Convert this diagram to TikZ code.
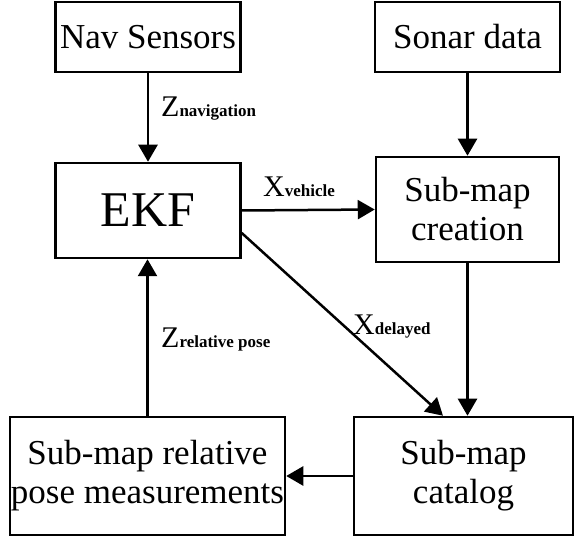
\documentclass[tikz,border=0pt]{standalone}
\usepackage{fontspec}
\setmainfont{Liberation Serif}
\usetikzlibrary{arrows.meta,positioning}
\newcommand{\sublbl}[1]{{\fontsize{17}{18}\selectfont\bfseries #1}}

\begin{document}
\begin{tikzpicture}[x=1pt, y=-1pt,
  box/.style={draw, line width=2.5pt, inner sep=0pt, align=center, font=\fontsize{35}{39}\selectfont},
  flow/.style={-{Triangle[length=17pt,width=19pt]}, line width=2.5pt},
  lbl/.style={anchor=base west, inner sep=0pt, font=\fontsize{30}{32}\selectfont}]
\useasboundingbox (0,0) rectangle (574,537);
% Inputs
\node[box, minimum width=185pt, minimum height=70pt] (nav) at (148,37) {Nav Sensors};
\node[box, minimum width=185pt, minimum height=70pt] (sonar) at (467.5,37) {Sonar data};
% Middle row
\node[box, minimum width=185pt, minimum height=95pt, font=\fontsize{50}{54}\selectfont] (ekf) at (148,210.5) {EKF};
\node[box, minimum width=183pt, minimum height=105pt] (creation) at (467.5,209.5) {Sub-map\\creation};
% Bottom row
\node[box, minimum width=275pt, minimum height=118pt] (relpose) at (147.5,476) {\makebox[240pt]{Sub-map relative}\\\makebox[240pt]{pose measurements}};
\node[box, minimum width=219pt, minimum height=118pt] (catalog) at (463.5,476) {Sub-map\\catalog};

% Connectors
\draw[flow] (nav.south) -- (ekf.north);
\draw[flow] (sonar.south) -- (creation.north);
\draw[flow] (ekf.east) -- (creation.west);
\draw[flow] ([yshift=-22.5pt]ekf.east) -- ([xshift=-20.5pt]catalog.north);
\draw[flow] (creation.south) -- (creation.south |- catalog.north);
\draw[flow] (catalog.west) -- (relpose.east);
\draw[flow] (relpose.north) -- (relpose.north |- ekf.south);

% Labels
\node[lbl] (znav) at (161,117) {Z\sublbl{navigation}};
\node[lbl] (xveh) at (263,197) {X\sublbl{vehicle}};
\node[lbl] (xdel) at (353,335) {X\sublbl{delayed}};
\node[lbl] (zrel) at (161,348) {Z\sublbl{relative pose}};
\end{tikzpicture}
\end{document}
